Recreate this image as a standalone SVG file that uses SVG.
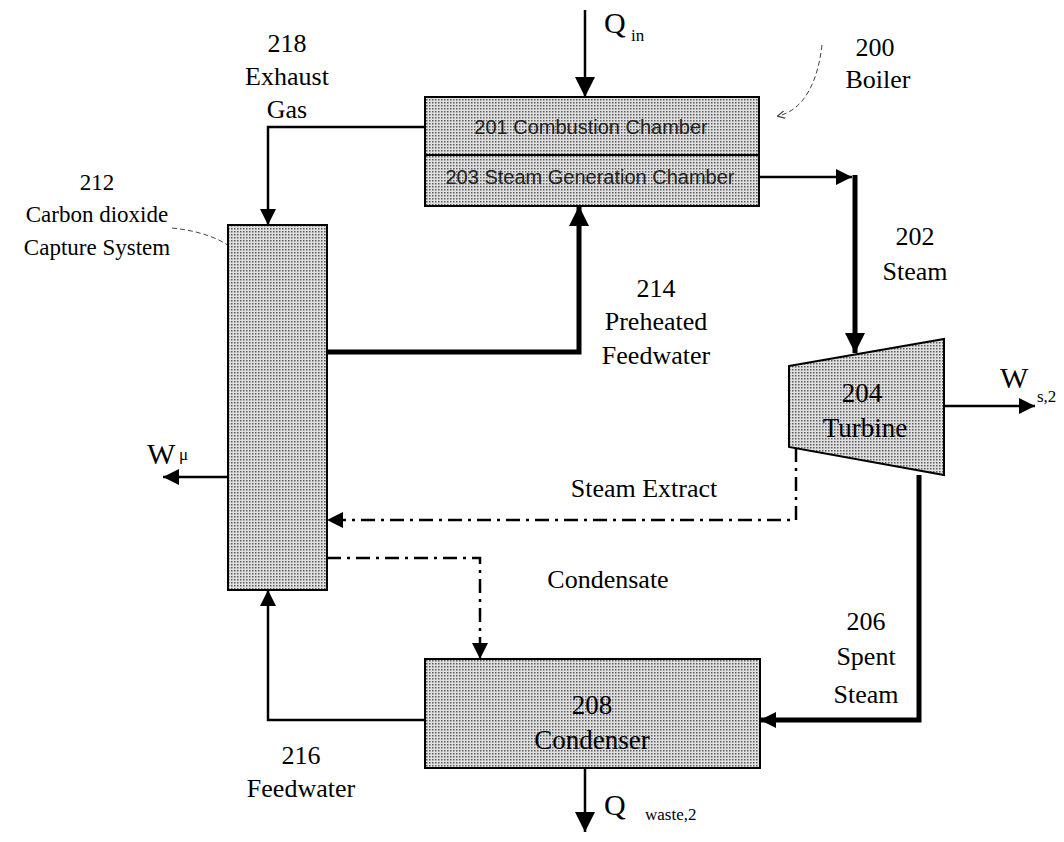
<svg xmlns="http://www.w3.org/2000/svg" width="1064" height="842" viewBox="0 0 1064 842">
<style>
.t{font-family:"Liberation Serif","Times New Roman","DejaVu Serif",serif;fill:#000;text-anchor:middle}
.st{text-anchor:start}
.s{font-family:"Liberation Sans",Arial,sans-serif;fill:#222;text-anchor:middle;font-size:20px}
.box{fill:url(#dots);stroke:#000;stroke-width:2}
.ln{fill:none;stroke:#000;stroke-width:2.5}
.thk{fill:none;stroke:#000;stroke-width:5}
.dd{fill:none;stroke:#000;stroke-width:2.5;stroke-dasharray:14 6 3 6}
.lead{fill:none;stroke:#444;stroke-width:1;stroke-dasharray:5 3}
</style>
<defs>
<pattern id="dots" width="3" height="3" patternUnits="userSpaceOnUse">
<rect width="3" height="3" fill="#e0e0e0"/>
<rect width="1.5" height="1.5" fill="#5a5a5a"/>
</pattern>
<marker id="ah" viewBox="0 0 10 10" refX="10" refY="5" markerWidth="16" markerHeight="16" markerUnits="userSpaceOnUse" orient="auto">
<path d="M0,0 L10,5 L0,10 Z" fill="#000"/>
</marker>
<marker id="ahb" viewBox="0 0 10 10" refX="10" refY="5" markerWidth="20" markerHeight="20" markerUnits="userSpaceOnUse" orient="auto">
<path d="M0,0 L10,5 L0,10 Z" fill="#000"/>
</marker>
<marker id="ahs" viewBox="0 0 10 10" refX="9" refY="5" markerWidth="8" markerHeight="8" markerUnits="userSpaceOnUse" orient="auto">
<path d="M0,0 L10,5 L0,10" fill="none" stroke="#444" stroke-width="1.5"/>
</marker>
</defs>
<rect width="1064" height="842" fill="#fff"/>
<g id="connectors">
<line class="ln" x1="585" y1="10" x2="585" y2="97" marker-end="url(#ahb)"/>
<polyline class="ln" points="425,127 268,127 268,225" marker-end="url(#ah)"/>
<polyline class="thk" points="327,352 579,352 579,206" marker-end="url(#ahb)"/>
<line class="ln" x1="759" y1="177" x2="852" y2="177" marker-end="url(#ah)"/>
<line class="thk" x1="855" y1="175" x2="855" y2="353" marker-end="url(#ahb)"/>
<line class="ln" x1="944" y1="406" x2="1035" y2="406" marker-end="url(#ah)"/>
<polyline class="dd" points="796,448 796,520 327,520" marker-end="url(#ah)"/>
<line class="ln" x1="228" y1="477" x2="163" y2="477" marker-end="url(#ah)"/>
<polyline class="dd" points="327,558 480,558 480,659" marker-end="url(#ah)"/>
<polyline class="thk" points="919,475 919,720 760,720" marker-end="url(#ah)"/>
<polyline class="ln" points="425,720 268,720 268,590" marker-end="url(#ah)"/>
<line class="ln" x1="585" y1="768" x2="585" y2="832" marker-end="url(#ahb)"/>
<path class="lead" d="M822,45 C818,80 805,110 778,116" marker-end="url(#ahs)"/>
<path class="lead" d="M172,228 C210,232 240,245 250,272"/>
</g>
<g id="boiler">
<rect class="box" x="425" y="97" width="334" height="109"/>
<line x1="425" y1="155" x2="759" y2="155" stroke="#000" stroke-width="2"/>
<text class="s" x="591" y="134">201 Combustion Chamber</text>
<text class="s" x="590" y="184">203 Steam Generation Chamber</text>
</g>
<g id="capture">
<rect class="box" x="228" y="225" width="99" height="365"/>
</g>
<g id="turbine">
<polygon class="box" points="789,366 944,339 944,475 789,447"/>
<text class="t" x="862" y="402" font-size="27">204</text>
<text class="t" x="865" y="437" font-size="27">Turbine</text>
</g>
<g id="condenser">
<rect class="box" x="425" y="659" width="335" height="109"/>
<text class="t" x="592" y="714" font-size="27">208</text>
<text class="t" x="592" y="749" font-size="27">Condenser</text>
</g>
<g id="labels">
<text class="t st" x="604" y="33" font-size="30">Q</text>
<text class="t st" x="631" y="41" font-size="17">in</text>
<text class="t" x="875" y="56" font-size="26">200</text>
<text class="t" x="878" y="88" font-size="26">Boiler</text>
<text class="t" x="287" y="52" font-size="26">218</text>
<text class="t" x="287" y="85" font-size="26">Exhaust</text>
<text class="t" x="287" y="118" font-size="26">Gas</text>
<text class="t" x="97" y="190" font-size="23">212</text>
<text class="t" x="97" y="222" font-size="23">Carbon dioxide</text>
<text class="t" x="97" y="255" font-size="23">Capture System</text>
<text class="t" x="656" y="297" font-size="26">214</text>
<text class="t" x="656" y="330" font-size="26">Preheated</text>
<text class="t" x="656" y="364" font-size="26">Feedwater</text>
<text class="t" x="915" y="245" font-size="26">202</text>
<text class="t" x="915" y="280" font-size="26">Steam</text>
<text class="t st" x="1000" y="388" font-size="30">W</text>
<text class="t st" x="1037" y="402" font-size="17">s,2</text>
<text class="t st" x="147" y="464" font-size="30">W</text>
<text class="t st" x="179" y="460" font-size="17">μ</text>
<text class="t" x="644" y="497" font-size="26">Steam Extract</text>
<text class="t" x="608" y="588" font-size="26">Condensate</text>
<text class="t" x="866" y="630" font-size="26">206</text>
<text class="t" x="866" y="665" font-size="26">Spent</text>
<text class="t" x="866" y="703" font-size="26">Steam</text>
<text class="t" x="301" y="764" font-size="26">216</text>
<text class="t" x="301" y="797" font-size="26">Feedwater</text>
<text class="t st" x="604" y="815" font-size="30">Q</text>
<text class="t st" x="645" y="820" font-size="17">waste,2</text>
</g>
</svg>
